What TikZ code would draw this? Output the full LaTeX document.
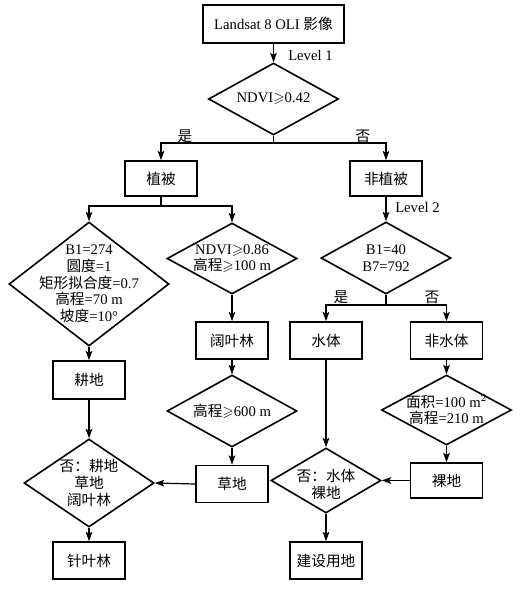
\documentclass[tikz,border=0pt]{standalone}
\usepackage{fontspec}
\usepackage{amssymb}
\setmainfont{Liberation Serif}
\newfontfamily\cjk{Noto Sans CJK SC}
\usetikzlibrary{shapes.geometric,arrows.meta}
\begin{document}
\begin{tikzpicture}[x=0.75pt,y=-0.75pt,
  every node/.style={font=\fontsize{11}{12.5}\selectfont},
  box/.style={draw, line width=1.2pt, inner sep=0pt, minimum width=54pt, minimum height=27.75pt},
  dia/.style={draw, diamond, line width=1.2pt, inner sep=0pt},
  txt/.style={align=center, inner sep=0pt},
  arr/.style={line width=0.9pt, -{Stealth[length=7pt,width=5pt,inset=1.5pt]}},
  ln/.style={line width=0.9pt},
  lab/.style={inner sep=0pt}]
\useasboundingbox (0,0) rectangle (524,595);
% row 0
\node[box, minimum width=105.75pt, minimum height=28.5pt] (L) at (273.5,24) {Landsat 8 OLI {\cjk 影像}};
\node[dia, minimum width=97.5pt, minimum height=54pt, label={[txt]center:NDVI$\geqslant$0.42}] (D1) at (273.5,99) {};
\node[lab, anchor=west] (lv1) at (288,55) {Level 1};
% row 1
\node[box, minimum height=26.25pt] (ZB) at (161,178.5) {\cjk 植被};
\node[box, minimum height=26.25pt] (FZB) at (386,178.5) {\cjk 非植被};
\node[lab] (yes1) at (185,136) {\cjk 是};
\node[lab] (no1) at (363,136) {\cjk 否};
\coordinate (b1) at (273.5,143);
% row 2
\node[dia, minimum width=120pt, minimum height=93pt, label={[txt]center:B1=274\\{\cjk 圆度}=1\\{\cjk 矩形拟合度}=0.7\\{\cjk 高程}=70 m\\{\cjk 坡度}=10°}] (DA) at (89,284) {};
\node[dia, minimum width=97.5pt, minimum height=53.25pt, label={[txt]center:NDVI$\geqslant$0.86\\{\cjk 高程}$\geqslant$100 m}] (DB) at (232,258.5) {};
\node[dia, minimum width=97.5pt, minimum height=54pt, label={[txt]center:B1=40\\B7=792}] (DC) at (386,258) {};
\node[lab, anchor=west] (lv2) at (395,207) {Level 2};
\coordinate (b2) at (161,206);
% row 3
\node[box] (KYL) at (232,340.5) {\cjk 阔叶林};
\node[box] (SS) at (326,340.5) {\cjk 水体};
\node[box] (FSS) at (446.5,340.5) {\cjk 非水体};
\node[lab] (yes2) at (341,297) {\cjk 是};
\node[lab] (no2) at (432,297) {\cjk 否};
\coordinate (b3) at (386,305);
\node[box, minimum height=28.5pt] (GD) at (89,380) {\cjk 耕地};
% row 4
\node[dia, minimum width=97.5pt, minimum height=54pt, label={[txt]center:{\cjk 高程}$\geqslant$600 m}] (DD) at (232,411) {};
\node[dia, minimum width=97.5pt, minimum height=52.5pt, label={[txt]center:{\cjk 面积}=100 m$^2$\\{\cjk 高程}=210 m}] (DE) at (446.5,410) {};
% row 5
\node[box] (CD) at (232,484) {\cjk 草地};
\node[box, minimum height=26.25pt] (LD) at (446.5,480.5) {\cjk 裸地};
\node[dia, minimum width=97.5pt, minimum height=66pt, label={[txt]center:{\cjk 否：耕地}\\{\cjk 草地}\\{\cjk 阔叶林}}] (DF) at (89,483) {};
\node[dia, minimum width=82.5pt, minimum height=48.75pt, label={[txt, yshift=-3pt]center:{\cjk 否：水体}\\{\cjk 裸地}}] (DG) at (326,480.5) {};
% row 6
\node[box] (ZYL) at (89,560.5) {\cjk 针叶林};
\node[box] (JS) at (326,560.5) {\cjk 建设用地};
% connectors
\draw[arr] (L) -- (D1);
\draw[ln] (D1.south) -- (b1);
\draw[arr] (b1) -| (ZB.north);
\draw[arr] (b1) -| (FZB.north);
\draw[ln] (ZB.south) -- (b2);
\draw[arr] (b2) -| (DA.north);
\draw[arr] (b2) -| (DB.north);
\draw[arr] (FZB) -- (DC);
\draw[ln] (DC.south) -- (b3);
\draw[arr] (b3) -| (SS.north);
\draw[arr] (b3) -| (FSS.north);
\draw[arr] (DA) -- (GD);
\draw[arr] (GD) -- (DF);
\draw[arr] (DF) -- (ZYL);
\draw[arr] (DB) -- (KYL);
\draw[arr] (KYL) -- (DD);
\draw[arr] (DD) -- (CD);
\draw[arr] (CD.west) -- (DF.east);
\draw[arr] (SS) -- (DG);
\draw[arr] (FSS) -- (DE);
\draw[arr] (DE) -- (LD);
\draw[arr] (LD.west) -- (DG.east);
\draw[arr] (DG) -- (JS);
\end{tikzpicture}
\end{document}
